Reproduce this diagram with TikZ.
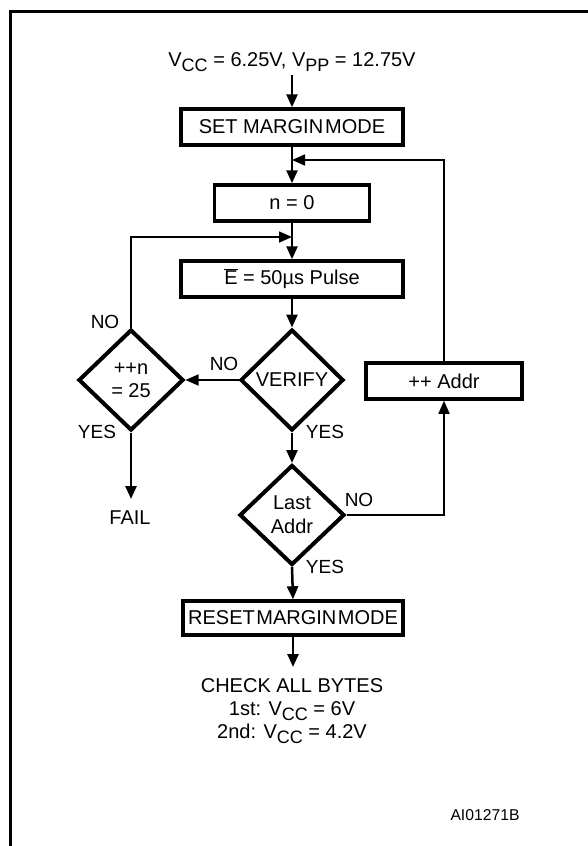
\documentclass[tikz,border=0pt]{standalone}
\usepackage{fontspec}
\setmainfont{Liberation Sans}
\usetikzlibrary{shapes.geometric,arrows.meta}
\newcommand{\sbs}[1]{\raisebox{-5pt}{\fontsize{18}{18}\selectfont #1}}
\begin{document}
\begin{tikzpicture}[x=1pt,y=-1pt,
  every node/.style={font=\fontsize{20}{24}\selectfont},
  box/.style={draw, line width=3.5pt, rectangle, inner sep=0pt, minimum height=36pt},
  dia/.style={draw, line width=4pt, diamond, inner sep=0pt, align=center},
  lbl/.style={font=\fontsize{19}{22}\selectfont, inner sep=0pt},
  txt/.style={inner sep=0pt, align=center},
  mainline/.style={line width=2.5pt, -{Triangle[length=13pt,width=11pt]}},
  loopline/.style={line width=1.6pt, -{Triangle[length=13pt,width=11pt]}}
]
\useasboundingbox (0,0) rectangle (588,846);
\draw[line width=3pt] (10,846) -- (10,11) -- (588,11);

% nodes
\node[txt] (top) at (292,62) {V\sbs{CC} = 6.25V, V\sbs{PP} = 12.75V};
\node[box, minimum width=222pt] (setm) at (292,127) {SET MARGIN\hspace{2pt}MODE};
\node[box, minimum width=155pt] (n0) at (292,203) {n = 0};
\node[box, minimum width=222pt] (pulse) at (292,279) {$\overline{\mbox{E}}$ = 50µs Pulse};
\node[dia, minimum width=103pt, minimum height=101pt] (verify) at (292,380) {VERIFY};
\node[dia, minimum width=105pt, minimum height=101pt] (incn) at (131,380) {\fontsize{20}{18}\selectfont ++n\\[-1pt]= 25};
\node[dia, minimum width=105pt, minimum height=100pt] (last) at (292,515) {\fontsize{20}{24}\selectfont Last\\Addr};
\node[box, minimum width=156pt] (addr) at (444,381) {++ Addr};
\node[box, minimum width=220pt, minimum height=34pt] (reset) at (293,618) {RESET\hspace{1.5pt}MARGIN\hspace{1.5pt}MODE};
\node[txt] (check) at (292,711) {CHECK ALL BYTES\\[-1pt]1st: V\sbs{CC} = 6V\\[-1pt]2nd: V\sbs{CC} = 4.2V};
\node[txt] (fail) at (130,518) {FAIL};
\node[txt, font=\fontsize{15.7}{18}\selectfont] (ai) at (485,815) {AI01271B};

% labels
\node[lbl] (l1) at (105,322) {NO};
\node[lbl] (l2) at (97,432) {YES};
\node[lbl] (l3) at (224,364) {NO};
\node[lbl] (l4) at (325,432) {YES};
\node[lbl] (l5) at (359,500) {NO};
\node[lbl] (l6) at (325,567) {YES};

% junctions
\coordinate (fb) at (292,160);
\coordinate (lj) at (292,237);
\coordinate (failend) at (131,499);
\coordinate (checkend) at (293,667);
\coordinate (topstart) at (292,75);

% connectors
\draw[mainline] (topstart) -- (setm.north);
\draw[mainline] (setm.south) -- (n0.north);
\draw[loopline] (addr.north) |- (fb);
\draw[mainline] (n0.south) -- (pulse.north);
\draw[loopline] (incn.north) |- (lj);
\draw[mainline] (pulse.south) -- (verify.north);
\draw[loopline] (verify.west) -- (incn.east);
\draw[mainline] (verify.south) -- (last.north);
\draw[loopline] (last.east) -| (addr.south);
\draw[mainline] (last.south) -- (reset.north);
\draw[mainline] (reset.south) -- (checkend);
\draw[mainline] (incn.south) -- (failend);
\end{tikzpicture}
\end{document}
